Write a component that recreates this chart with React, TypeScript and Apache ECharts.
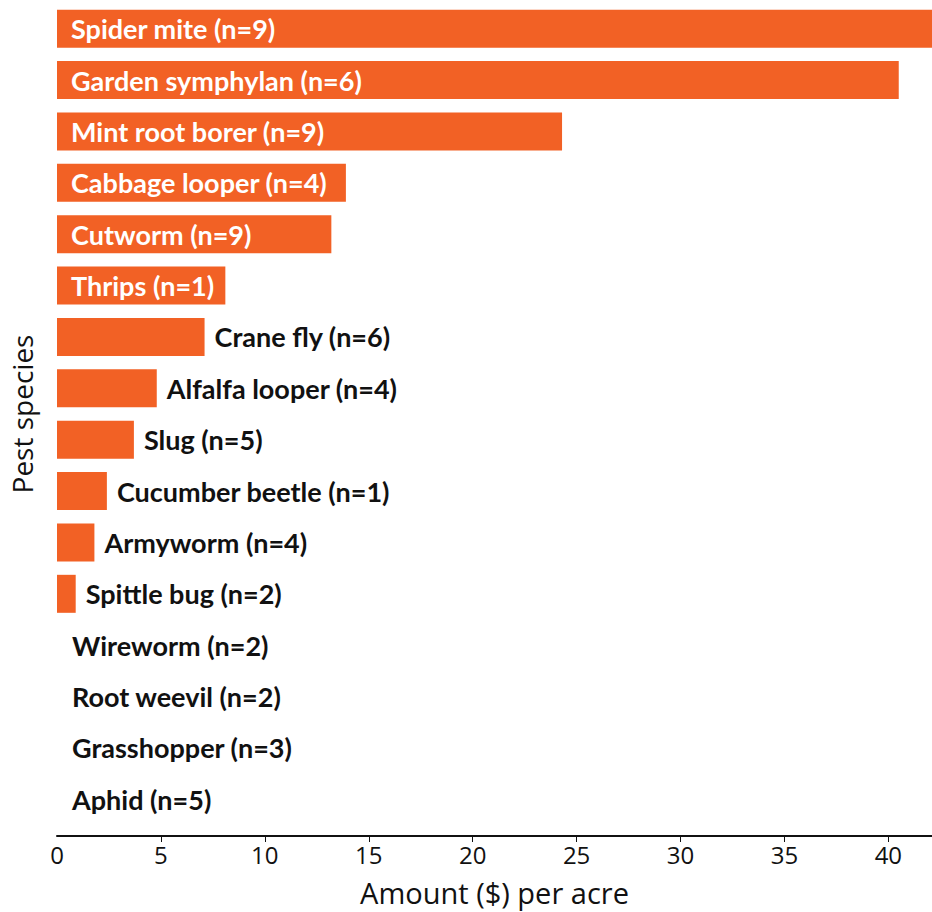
import React, { useEffect, useRef } from "react";
import * as echarts from "echarts";

// Pest species and their sample counts, top to bottom
const species = [
  "Spider mite",
  "Garden symphylan",
  "Mint root borer",
  "Cabbage looper",
  "Cutworm",
  "Thrips",
  "Crane fly",
  "Alfalfa looper",
  "Slug",
  "Cucumber beetle",
  "Armyworm",
  "Spittle bug",
  "Wireworm",
  "Root weevil",
  "Grasshopper",
  "Aphid",
];
const sampleCounts = [9, 6, 9, 4, 9, 1, 6, 4, 5, 1, 4, 2, 2, 2, 3, 5];
// Amount ($) per acre
const amounts = [42.1, 40.5, 24.3, 13.9, 13.2, 8.1, 7.1, 4.8, 3.7, 2.4, 1.8, 0.9, 0, 0, 0, 0];

const xTicks = [0, 5, 10, 15, 20, 25, 30, 35, 40];

const ORANGE = "#F26125";
const LABEL_FONT = "Lato";
const AXIS_FONT = "Open Sans";

export default function App() {
  const ref = useRef<HTMLDivElement>(null);

  useEffect(() => {
    if (!ref.current) return;
    const chart = echarts.init(ref.current, undefined, { renderer: "svg" });

    const data = amounts.map((v, i) => {
      const text = `${species[i]} (n=${sampleCounts[i]})`;
      const inside = v >= 8;
      return {
        value: v,
        label: {
          show: true,
          formatter: text,
          position: inside ? "insideLeft" : "right",
          distance: inside ? 14 : v === 0 ? 15 : 10,
          color: inside ? "#ffffff" : "#111111",
          fontFamily: LABEL_FONT,
          fontWeight: "bold",
          fontSize: 27,
        },
      };
    });

    chart.setOption({
      animation: false,
      grid: {
        left: 57,
        right: 0,
        top: 3,
        height: 822,
        containLabel: false,
        outerBoundsMode: "none",
      },
      xAxis: {
        type: "value",
        min: 0,
        max: 42.1,
        interval: 5,
        offset: 11,
        axisLine: { show: true, lineStyle: { color: "#111", width: 2 } },
        axisTick: {
          show: true,
          length: 6,
          lineStyle: { color: "#111", width: 1 },
          customValues: xTicks.slice(1),
        },
        axisLabel: {
          color: "#111",
          fontFamily: AXIS_FONT,
          fontSize: 24,
          margin: 6,
          customValues: xTicks,
        },
        splitLine: { show: false },
        name: "Amount ($) per acre",
        nameLocation: "middle",
        nameGap: 42,
        nameTextStyle: { color: "#111", fontFamily: AXIS_FONT, fontSize: 29 },
      },
      yAxis: {
        type: "category",
        data: species,
        inverse: true,
        axisLine: { show: false },
        axisTick: { show: false },
        axisLabel: { show: false },
        name: "Pest species",
        nameLocation: "middle",
        nameGap: 21,
        nameTextStyle: { color: "#111", fontFamily: AXIS_FONT, fontSize: 28 },
      },
      series: [
        {
          type: "bar",
          data,
          barWidth: 38,
          itemStyle: { color: ORANGE },
          clip: true,
        },
      ],
    });

    return () => chart.dispose();
  }, []);

  return (
    <div
      ref={ref}
      style={{ position: "fixed", left: 0, top: 0, width: 932, height: 912, background: "#fff" }}
    />
  );
}
